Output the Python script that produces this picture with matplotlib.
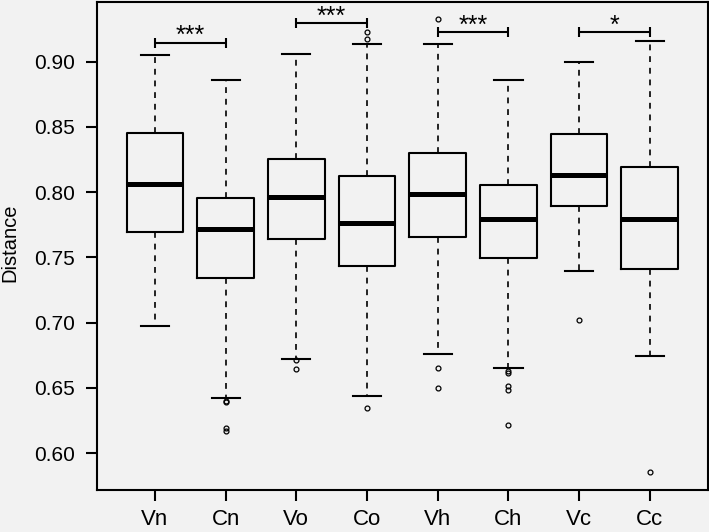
import matplotlib
matplotlib.use("Agg")
import matplotlib.pyplot as plt

plt.rcParams['font.family'] = ['Liberation Sans', 'DejaVu Sans']

categories = ["Vn", "Cn", "Vo", "Co", "Vh", "Ch", "Vc", "Cc"]
whis_lo = [0.6973, 0.6424, 0.6723, 0.6437, 0.6759, 0.6654, 0.7394, 0.6743]
q1 = [0.7693, 0.7338, 0.7637, 0.7433, 0.7655, 0.7494, 0.7894, 0.7407]
median = [0.8060, 0.7714, 0.7960, 0.7760, 0.7986, 0.7792, 0.8132, 0.7792]
q3 = [0.8453, 0.7953, 0.8250, 0.8122, 0.8298, 0.8058, 0.8446, 0.8193]
whis_hi = [0.9048, 0.8857, 0.9061, 0.9135, 0.9135, 0.8855, 0.8997, 0.9155]
outliers = [
    [],
    [0.6400, 0.6393, 0.6190, 0.6172],
    [0.6713, 0.6646],
    [0.9224, 0.9171, 0.6348],
    [0.9324, 0.6652, 0.6496],
    [0.6629, 0.6611, 0.6514, 0.6483, 0.6218],
    [0.7017],
    [0.5858],
]

# significance brackets: (left index, right index, y, label)
sig_left = [1, 3, 5, 7]
sig_right = [2, 4, 6, 8]
sig_y = [0.9145, 0.9296, 0.9224, 0.9224]
sig_label = ["***", "***", "***", "*"]

bg = '#f2f2f2'
fig = plt.figure(figsize=(7.09, 5.32), dpi=100, facecolor=bg)
ax = fig.add_axes([97/709, 1 - 489.7/532, (707.7-97)/709, (489.7-1.5)/532])
ax.set_facecolor(bg)

stats = []
for i, c in enumerate(categories):
    stats.append(dict(label=c, whislo=whis_lo[i], q1=q1[i], med=median[i],
                      q3=q3[i], whishi=whis_hi[i], fliers=outliers[i]))

positions = list(range(1, len(categories) + 1))
ax.bxp(stats, positions=positions, widths=0.8, showfliers=True,
       patch_artist=False,
       boxprops=dict(color='black', linewidth=1.5),
       medianprops=dict(color='black', linewidth=3.6, solid_capstyle='butt'),
       whiskerprops=dict(color='black', linewidth=1.2, linestyle=(0, (3.5, 3.5))),
       capprops=dict(color='black', linewidth=1.5),
       capwidths=0.4,
       flierprops=dict(marker='o', markersize=3.5, markerfacecolor='none',
                       markeredgecolor='black', markeredgewidth=0.9))

# brackets
for l, r, y, lab in zip(sig_left, sig_right, sig_y, sig_label):
    ax.plot([l, r], [y, y], color='black', lw=1.5, solid_capstyle='butt')
    for xx in (l, r):
        ax.plot([xx, xx], [y - 0.0038, y + 0.0038], color='black', lw=1.5,
                solid_capstyle='butt')
    ax.text((l + r) / 2, y - 0.0005, lab, ha='center', va='baseline',
            fontsize=18, color='black')

ax.set_xlim(0.18, 8.82)
ax.set_ylim(0.572, 0.946)
ax.set_xticks(positions)
ax.set_xticklabels(categories, fontsize=16)
ax.set_yticks([0.60, 0.65, 0.70, 0.75, 0.80, 0.85, 0.90])
ax.set_yticklabels(["0.60", "0.65", "0.70", "0.75", "0.80", "0.85", "0.90"], fontsize=15)
ax.tick_params(axis='both', direction='out', length=8, width=1.5, colors='black')
ax.tick_params(axis='x', pad=6)
ax.tick_params(axis='y', pad=8)
for s in ax.spines.values():
    s.set_linewidth(1.5)
    s.set_color('black')
fig.text(0.5/709, 1 - 243/532, "Distance", rotation=90, ha='left', va='center',
         fontsize=14.5, color='black')

fig.savefig("out.png", dpi=100, facecolor=bg)
